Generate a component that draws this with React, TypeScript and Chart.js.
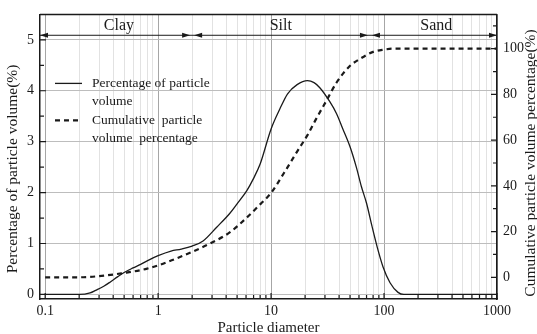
import React, { useEffect, useRef } from 'react';
import { Chart, registerables } from 'chart.js';

Chart.register(...registerables);

// ---- Data ----
const percentDiameters = [0.1, 0.15, 0.2, 0.25, 0.28, 0.33, 0.38, 0.44, 0.5, 0.6, 0.7, 0.8, 1, 1.3, 1.6, 2, 2.5, 3.3, 4.3, 5, 6.1, 7, 8, 10, 12, 14, 17, 21, 24, 27, 33, 38, 43, 50, 57, 63, 70, 78, 87, 98, 113, 133, 150, 200, 1000];
const percentValues = [0, 0, 0, 0.03, 0.08, 0.16, 0.25, 0.35, 0.43, 0.52, 0.59, 0.66, 0.76, 0.85, 0.89, 0.95, 1.05, 1.32, 1.59, 1.78, 2.04, 2.28, 2.56, 3.25, 3.65, 3.94, 4.12, 4.2, 4.16, 4.06, 3.79, 3.55, 3.26, 2.9, 2.49, 2.12, 1.79, 1.35, 0.93, 0.54, 0.23, 0.04, 0, 0, 0];

const cumulativeDiameters = [0.1, 0.2, 0.25, 0.3, 0.4, 0.5, 0.6, 0.8, 1, 1.3, 2, 3, 4.3, 6, 8, 10, 13, 17, 21, 25, 31, 38, 50, 61, 80, 100, 120, 1000];
const cumulativeValues = [0, 0, 0.2, 0.5, 1.2, 1.9, 2.5, 3.8, 5.2, 7.3, 11.1, 15.2, 19.6, 25.8, 31.9, 36.9, 45.6, 55, 62.2, 69.2, 77.4, 85.2, 92.5, 95.5, 98.6, 99.6, 100, 100];

const xTickValues = [0.1, 0.2, 0.3, 0.4, 0.5, 0.6, 0.7, 0.8, 0.9, 1, 2, 3, 4, 5, 6, 7, 8, 9, 10, 20, 30, 40, 50, 60, 70, 80, 90, 100, 200, 300, 400, 500, 600, 700, 800, 900, 1000];
const leftTicks = [0, 1, 2, 3, 4, 5];
const leftMinorTicks = [0.5, 1.5, 2.5, 3.5, 4.5];
const rightTicks = [0, 20, 40, 60, 80, 100];
const rightMinorTicks = [10, 30, 50, 70, 90, 110];

const sectionNames = ['Clay', 'Silt', 'Sand'];
const sectionBounds = [0.09, 2, 75, 1000];
const sectionLabelCenters = [0.45, 12.2, 290];
const sectionLineLevel = 5.09;

const legendLabels = [
  ['Percentage of particle', 'volume'],
  ['Cumulative  particle', 'volume  percentage'],
];
const leftTitle = 'Percentage of particle volume(%)';
const rightTitle = 'Cumulative particle volume percentage(%)';
const bottomTitle = 'Particle diameter';

const SERIF = '"Liberation Serif", "Times New Roman", serif';
const INK = '#1a1a1a';

const isDecade = (v: number) => Math.abs(Math.log10(v) - Math.round(Math.log10(v))) < 1e-6;

const overlayPlugin = {
  id: 'overlay',
  afterDraw(chart: any) {
    const { ctx, chartArea } = chart;
    const { left, right, top, bottom } = chartArea;
    const x = chart.scales.x;
    const y = chart.scales.y;
    const y1 = chart.scales.y1;
    ctx.save();
    ctx.strokeStyle = INK;
    ctx.fillStyle = INK;

    // top frame
    ctx.lineWidth = 1.5;
    ctx.beginPath();
    ctx.moveTo(left, top);
    ctx.lineTo(right, top);
    ctx.stroke();

    // inward ticks
    ctx.lineWidth = 1.2;
    ctx.beginPath();
    xTickValues.forEach((v) => {
      const px = x.getPixelForValue(v);
      const len = isDecade(v) ? 6 : 4;
      ctx.moveTo(px, bottom);
      ctx.lineTo(px, bottom - len);
    });
    leftTicks.forEach((v) => {
      const py = y.getPixelForValue(v);
      ctx.moveTo(left, py);
      ctx.lineTo(left + 6, py);
    });
    leftMinorTicks.forEach((v) => {
      const py = y.getPixelForValue(v);
      ctx.moveTo(left, py);
      ctx.lineTo(left + 4, py);
    });
    rightTicks.forEach((v) => {
      const py = y1.getPixelForValue(v);
      ctx.moveTo(right, py);
      ctx.lineTo(right - 6, py);
    });
    rightMinorTicks.forEach((v) => {
      const py = y1.getPixelForValue(v);
      ctx.moveTo(right, py);
      ctx.lineTo(right - 4, py);
    });
    ctx.stroke();

    // section arrow line
    const ly = y.getPixelForValue(sectionLineLevel);
    ctx.lineWidth = 1;
    ctx.beginPath();
    ctx.moveTo(left, ly);
    ctx.lineTo(right, ly);
    ctx.stroke();
    const arrow = (tipX: number, dir: number) => {
      ctx.beginPath();
      ctx.moveTo(tipX, ly);
      ctx.lineTo(tipX - dir * 8, ly - 2.5);
      ctx.lineTo(tipX - dir * 8, ly + 2.5);
      ctx.closePath();
      ctx.fill();
    };
    for (let i = 0; i < sectionBounds.length; i++) {
      const bx = i === 0 ? left : i === sectionBounds.length - 1 ? right : x.getPixelForValue(sectionBounds[i]);
      if (i > 0) arrow(i === sectionBounds.length - 1 ? bx : bx - 2, 1);
      if (i < sectionBounds.length - 1) arrow(i === 0 ? bx : bx + 2, -1);
    }
    ctx.font = `16px ${SERIF}`;
    ctx.textAlign = 'center';
    ctx.textBaseline = 'alphabetic';
    sectionNames.forEach((name, i) => {
      ctx.fillText(name, x.getPixelForValue(sectionLabelCenters[i]), ly - 5);
    });

    // legend
    const lx = left + 15;
    const lineEnd = left + 42;
    const textX = left + 52;
    const row1 = top + 69;
    const row2 = top + 106;
    ctx.font = `13.5px ${SERIF}`;
    ctx.textAlign = 'left';
    ctx.textBaseline = 'middle';
    ctx.lineWidth = 1.3;
    ctx.beginPath();
    ctx.moveTo(lx, row1);
    ctx.lineTo(lineEnd, row1);
    ctx.stroke();
    ctx.fillText(legendLabels[0][0], textX, row1);
    ctx.fillText(legendLabels[0][1], textX, row1 + 18);
    ctx.lineWidth = 2.2;
    ctx.setLineDash([5, 4]);
    ctx.beginPath();
    ctx.moveTo(lx, row2);
    ctx.lineTo(lineEnd, row2);
    ctx.stroke();
    ctx.setLineDash([]);
    ctx.fillText(legendLabels[1][0], textX, row2);
    ctx.fillText(legendLabels[1][1], textX, row2 + 18);

    // axis titles (both read bottom to top)
    ctx.font = `15.5px ${SERIF}`;
    ctx.textAlign = 'center';
    ctx.textBaseline = 'middle';
    ctx.save();
    ctx.translate(13, 169);
    ctx.rotate(-Math.PI / 2);
    ctx.fillText(leftTitle, 0, 0);
    ctx.restore();
    ctx.save();
    ctx.translate(right + 34, 163);
    ctx.rotate(-Math.PI / 2);
    ctx.fillText(rightTitle, 0, 0);
    ctx.restore();

    ctx.restore();
  },
};

export default function App() {
  const canvasRef = useRef<HTMLCanvasElement | null>(null);

  useEffect(() => {
    document.body.style.margin = '0';
    const canvas = canvasRef.current;
    if (!canvas) return;
    const chart = new Chart(canvas, {
      type: 'line',
      data: {
        datasets: [
          {
            label: 'Percentage of particle volume',
            data: percentDiameters.map((d, i) => ({ x: d, y: percentValues[i] })),
            yAxisID: 'y',
            borderColor: INK,
            borderWidth: 1.3,
            pointRadius: 0,
            cubicInterpolationMode: 'monotone',
            fill: false,
          },
          {
            label: 'Cumulative particle volume percentage',
            data: cumulativeDiameters.map((d, i) => ({ x: d, y: cumulativeValues[i] })),
            yAxisID: 'y1',
            borderColor: INK,
            borderWidth: 2.2,
            borderDash: [5, 4],
            pointRadius: 0,
            cubicInterpolationMode: 'monotone',
            fill: false,
          },
        ],
      },
      options: {
        responsive: false,
        animation: false,
        events: [],
        layout: { padding: { top: 12, left: 0, right: 0, bottom: 0 } },
        plugins: {
          legend: { display: false },
          tooltip: { enabled: false },
        },
        scales: {
          x: {
            type: 'logarithmic',
            min: 0.09,
            max: 1000,
            afterBuildTicks: (scale: any) => {
              scale.ticks = xTickValues.map((v) => ({ value: v }));
            },
            afterFit: (scale: any) => {
              scale.height = 35;
            },
            ticks: {
              autoSkip: false,
              maxRotation: 0,
              padding: 4,
              color: INK,
              font: { family: SERIF, size: 14 },
              callback: (v: any) => (isDecade(Number(v)) ? String(Number(v)) : ''),
            },
            grid: {
              drawTicks: false,
              color: (c: any) => (c.tick && isDecade(c.tick.value) ? '#a6a6a6' : '#e2e2e2'),
              lineWidth: 1,
            },
            border: { display: true, color: INK, width: 1.5 },
            title: {
              display: true,
              text: bottomTitle,
              color: INK,
              font: { family: SERIF, size: 15 },
              padding: { top: 0, bottom: -3 },
            },
          },
          y: {
            type: 'linear',
            position: 'left',
            min: -0.09,
            max: 5.5,
            afterBuildTicks: (scale: any) => {
              scale.ticks = leftTicks.map((v) => ({ value: v }));
            },
            afterFit: (scale: any) => {
              scale.width = 40;
            },
            ticks: {
              padding: 6,
              color: INK,
              font: { family: SERIF, size: 14 },
            },
            grid: { drawTicks: false, color: '#bdbdbd', lineWidth: 1 },
            border: { display: true, color: INK, width: 1.5 },
          },
          y1: {
            type: 'linear',
            position: 'right',
            min: -9.5,
            max: 115,
            afterBuildTicks: (scale: any) => {
              scale.ticks = rightTicks.map((v) => ({ value: v }));
            },
            afterFit: (scale: any) => {
              scale.width = 40;
            },
            ticks: {
              padding: 6,
              color: INK,
              font: { family: SERIF, size: 14 },
            },
            grid: { drawTicks: false, drawOnChartArea: false },
            border: { display: true, color: INK, width: 1.5 },
          },
        },
      } as any,
      plugins: [overlayPlugin],
    });
    return () => chart.destroy();
  }, []);

  return (
    <div style={{ position: 'fixed', left: 0, top: 0, width: 537, height: 334, background: '#fff' }}>
      <canvas ref={canvasRef} width={537} height={334} style={{ display: 'block', width: 537, height: 334 }} />
    </div>
  );
}
